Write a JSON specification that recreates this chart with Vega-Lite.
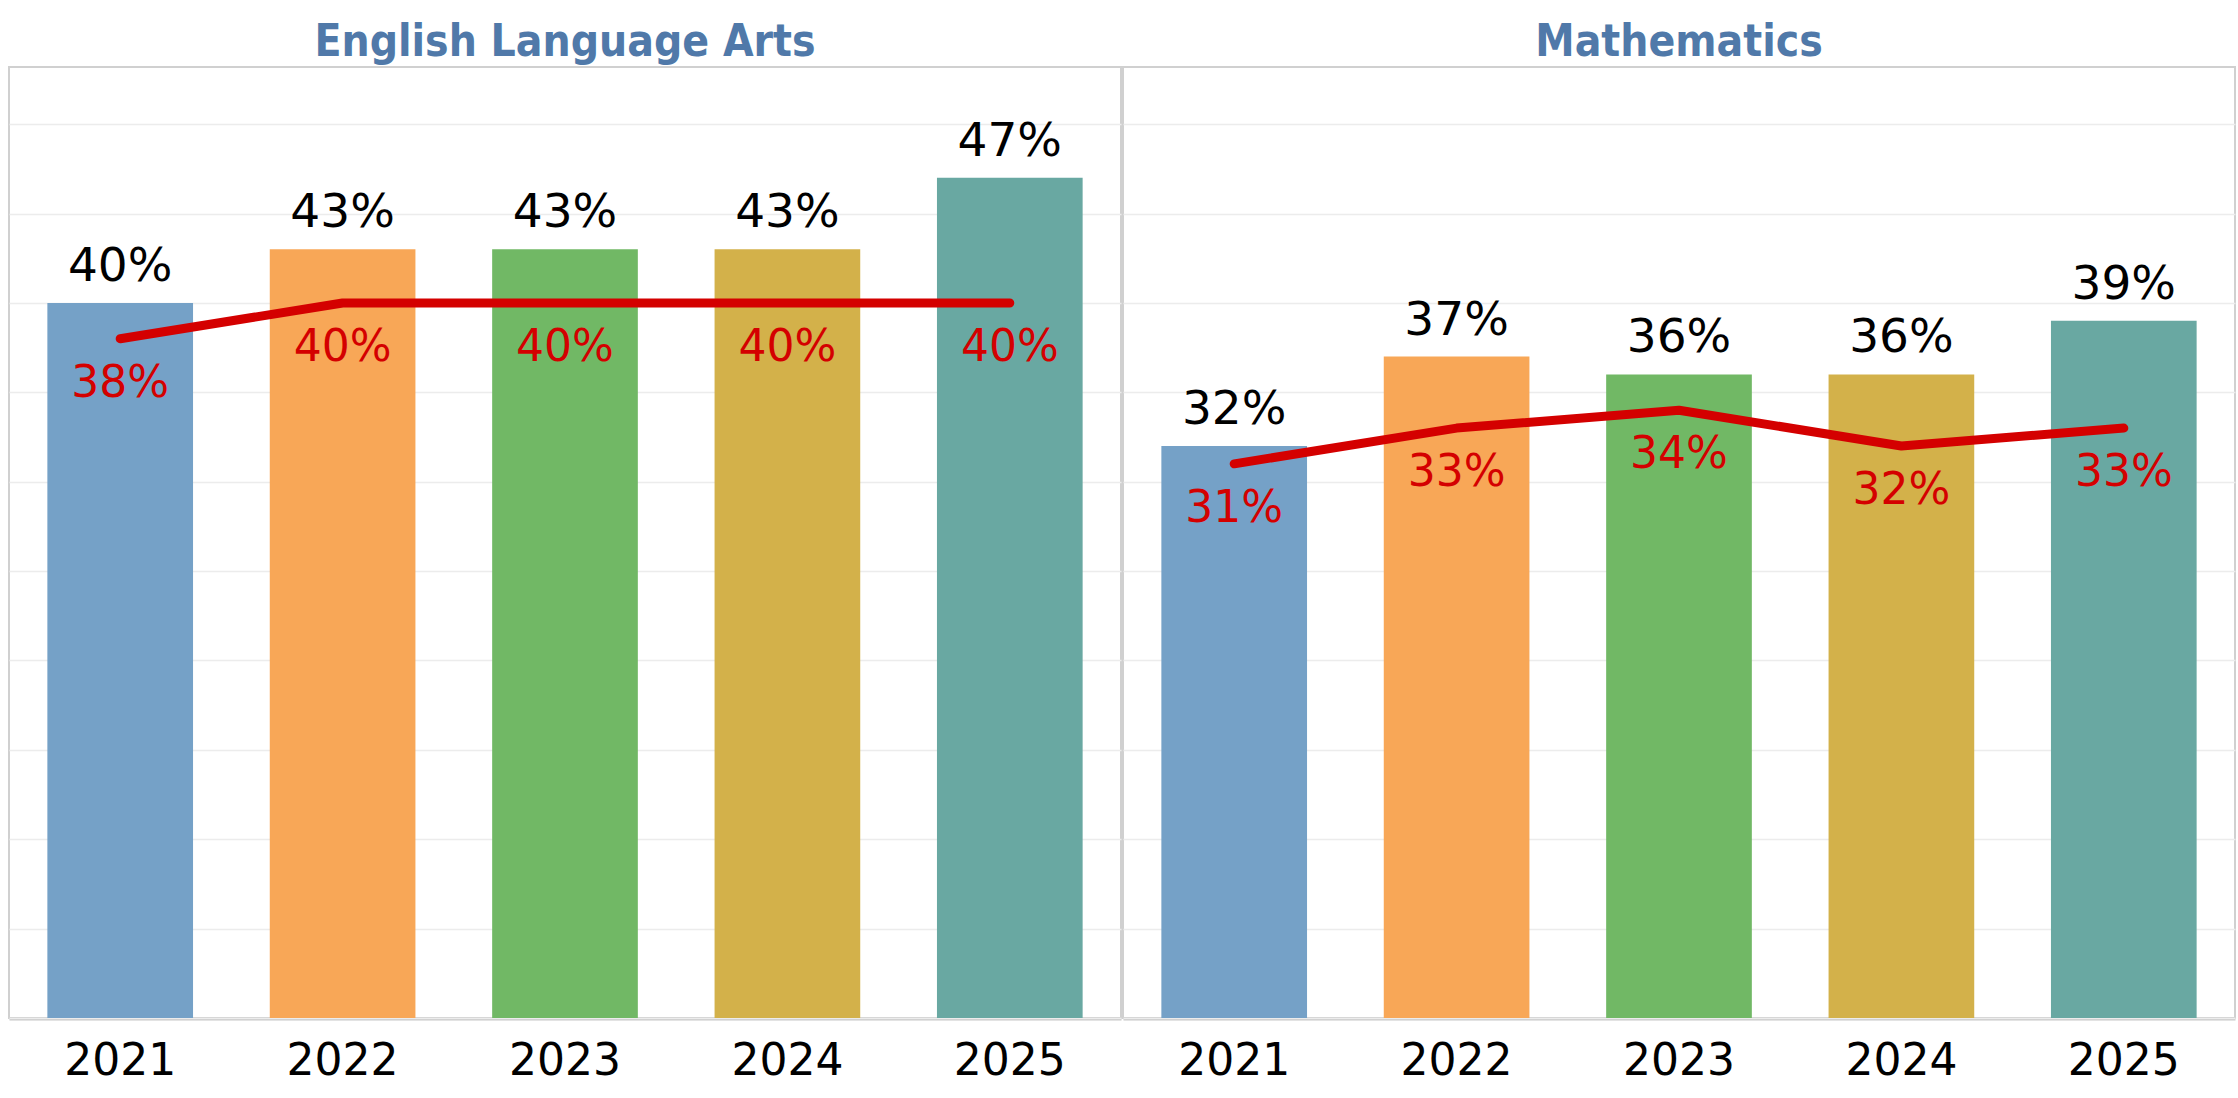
{
  "$schema": "https://vega.github.io/schema/vega-lite/v6.json",
  "background": "white",
  "padding": {"left": 8, "top": 21, "right": 0, "bottom": 0},
  "data": {
    "values": [
      {"subject": "English Language Arts", "year": "2021", "pct": 0.40, "avg": 0.38},
      {"subject": "English Language Arts", "year": "2022", "pct": 0.43, "avg": 0.40},
      {"subject": "English Language Arts", "year": "2023", "pct": 0.43, "avg": 0.40},
      {"subject": "English Language Arts", "year": "2024", "pct": 0.43, "avg": 0.40},
      {"subject": "English Language Arts", "year": "2025", "pct": 0.47, "avg": 0.40},
      {"subject": "Mathematics", "year": "2021", "pct": 0.32, "avg": 0.31},
      {"subject": "Mathematics", "year": "2022", "pct": 0.37, "avg": 0.33},
      {"subject": "Mathematics", "year": "2023", "pct": 0.36, "avg": 0.34},
      {"subject": "Mathematics", "year": "2024", "pct": 0.36, "avg": 0.32},
      {"subject": "Mathematics", "year": "2025", "pct": 0.39, "avg": 0.33}
    ]
  },
  "facet": {
    "column": {
      "field": "subject",
      "type": "nominal",
      "sort": ["English Language Arts", "Mathematics"],
      "header": {
        "title": null,
        "labelFont": "DejaVu Sans Condensed, Liberation Sans Narrow, DejaVu Sans",
        "labelFontSize": 44,
        "labelFontWeight": "bold",
        "labelColor": "#5079A9",
        "labelPadding": 1
      }
    }
  },
  "spacing": 0,
  "spec": {
    "width": 1112,
    "height": 951,
    "encoding": {
      "x": {
        "field": "year",
        "type": "ordinal",
        "scale": {"paddingInner": 0.345, "paddingOuter": 0.1725},
        "axis": {
          "title": null,
          "labelAngle": 0,
          "labelFont": "DejaVu Sans",
          "labelFontSize": 44,
          "labelColor": "black",
          "ticks": false,
          "tickSize": 0,
          "labelPadding": 20,
          "labelBaseline": "top",
          "domainColor": "#c8c8c8",
          "domainWidth": 2
        }
      }
    },
    "layer": [
      {
        "mark": {"type": "bar"},
        "encoding": {
          "y": {
            "field": "pct",
            "type": "quantitative",
            "scale": {"domain": [0, 0.532], "nice": false},
            "axis": {
              "title": null,
              "labels": false,
              "ticks": false,
              "domain": false,
              "grid": true,
              "gridColor": "#ececec",
              "gridWidth": 1.5,
              "values": [0, 0.05, 0.1, 0.15, 0.2, 0.25, 0.3, 0.35, 0.4, 0.45, 0.5]
            }
          },
          "color": {
            "field": "year",
            "type": "ordinal",
            "scale": {"range": ["#75A1C7", "#F8A757", "#71B865", "#D3B14A", "#69A8A2"]},
            "legend": null
          }
        }
      },
      {
        "mark": {"type": "text", "baseline": "middle", "dy": -36, "fontSize": 47, "font": "DejaVu Sans", "color": "black"},
        "encoding": {
          "y": {"field": "pct", "type": "quantitative"},
          "text": {"field": "pct", "type": "quantitative", "format": ".0%"}
        }
      },
      {
        "mark": {"type": "line", "color": "#D40000", "strokeWidth": 9, "strokeCap": "round", "strokeJoin": "round"},
        "encoding": {
          "y": {"field": "avg", "type": "quantitative"}
        }
      },
      {
        "mark": {"type": "text", "baseline": "middle", "dy": 45, "fontSize": 44, "font": "DejaVu Sans", "color": "#D40000"},
        "encoding": {
          "y": {"field": "avg", "type": "quantitative"},
          "text": {"field": "avg", "type": "quantitative", "format": ".0%"}
        }
      }
    ]
  },
  "config": {
    "view": {"stroke": "#d0d0d0", "strokeWidth": 2}
  }
}
